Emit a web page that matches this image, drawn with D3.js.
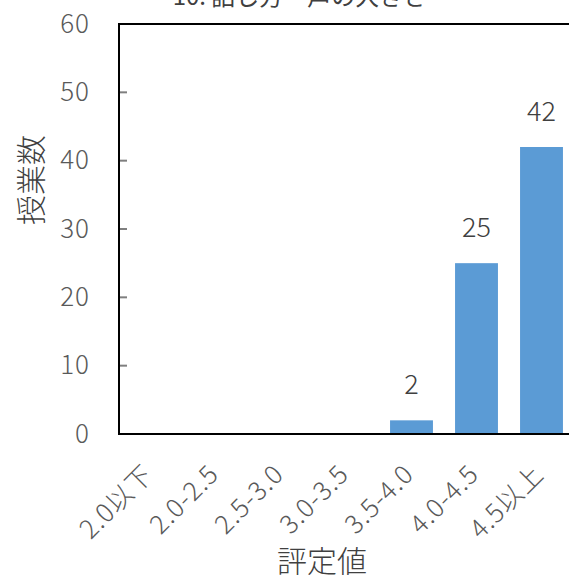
<!DOCTYPE html>
<html>
<head>
<meta charset="utf-8">
<script src="https://cdn.jsdelivr.net/npm/d3@7"></script>
<style>
  body { margin: 0; background: #fff; }
  svg { display: block; font-family: "Noto Sans CJK JP", "Noto Sans", sans-serif; }
</style>
</head>
<body>
<div id="chart"></div>
<script>
// data
let categories = ["2.0以下", "2.0-2.5", "2.5-3.0", "3.0-3.5", "3.5-4.0", "4.0-4.5", "4.5以上"];
let counts = [0, 0, 0, 0, 2, 25, 42];
let yTicks = [0, 10, 20, 30, 40, 50, 60];
let titleText = "10. 話し方ー声の大きさ";

function barChart(){
    let width = 569, height = 579;
    let margin = {"top": 24, "bottom": 145, "left": 119, "right": -5};
    let plotW = width - margin.left - margin.right;
    let plotH = height - margin.top - margin.bottom;

    let svg = d3.select("#chart").append("svg")
        .attr("width", width)
        .attr("height", height);

    let x = d3.scaleBand().domain(categories).range([0, plotW]).paddingInner(0.34).paddingOuter(0.17);
    let y = d3.scaleLinear().domain([0, 60]).range([plotH, 0]);

    let rows = categories.map((c, i) => ({cat: c, val: counts[i]}));

    let g = svg.append("g")
        .attr("transform", "translate(" + margin.left + ", " + margin.top + ")");

    // title (cut off at top)
    svg.append("text")
        .attr("x", 300).attr("y", 5)
        .attr("text-anchor", "middle")
        .attr("font-size", 24)
        .attr("fill", "#404040")
        .text(titleText);

    // bars
    g.selectAll(".bar")
        .data(rows)
        .enter().append("rect")
        .attr("x", d => x(d.cat))
        .attr("y", d => y(d.val))
        .attr("width", x.bandwidth())
        .attr("height", d => plotH - y(d.val))
        .attr("fill", "#5B9BD5");

    // value labels
    g.selectAll(".lbl")
        .data(rows.filter(d => d.val > 0))
        .enter().append("text")
        .attr("x", d => x(d.cat) + x.bandwidth() / 2)
        .attr("y", d => y(d.val) - 26)
        .attr("text-anchor", "middle")
        .attr("font-size", 27)
        .attr("font-weight", 300)
        .attr("fill", "#404040")
        .text(d => d.val);

    // y axis
    let yAxis = d3.axisLeft(y).tickValues(yTicks).tickSize(0).tickPadding(29);
    let ya = g.append("g").call(yAxis);
    ya.select(".domain").remove();
    ya.selectAll("text")
        .attr("font-size", 26)
        .attr("font-weight", 300)
        .attr("letter-spacing", 1)
        .attr("fill", "#595959")
        .attr("font-family", "\"Noto Sans CJK JP\", sans-serif");

    // inner tick marks
    g.selectAll(".tk")
        .data(yTicks.filter(t => t > 0 && t < 60))
        .enter().append("line")
        .attr("x1", 0).attr("x2", 8)
        .attr("y1", d => y(d)).attr("y2", d => y(d))
        .attr("stroke", "#7f7f7f").attr("stroke-width", 2);

    // frame
    g.append("line").attr("x1", 0).attr("x2", 0).attr("y1", 0).attr("y2", plotH)
        .attr("stroke", "#000").attr("stroke-width", 2);
    g.append("line").attr("x1", -1).attr("x2", plotW).attr("y1", 0).attr("y2", 0)
        .attr("stroke", "#000").attr("stroke-width", 2);
    g.append("line").attr("x1", -1).attr("x2", plotW).attr("y1", plotH).attr("y2", plotH)
        .attr("stroke", "#000").attr("stroke-width", 2);

    // x labels
    g.selectAll(".xl")
        .data(categories)
        .enter().append("text")
        .attr("transform", d => "translate(" + (x(d) + x.bandwidth() / 2 - 10) + ", " + (plotH + 28) + ") rotate(-45)")
        .attr("text-anchor", "end")
        .attr("dy", "0.75em")
        .attr("font-size", 26)
        .attr("font-weight", 300)
        .attr("letter-spacing", 1)
        .attr("fill", "#595959")
        .text(d => d);

    // axis titles
    svg.append("text")
        .attr("x", 322).attr("y", 572)
        .attr("text-anchor", "middle")
        .attr("font-size", 30)
        .attr("font-weight", 300)
        .attr("fill", "#404040")
        .text("評定値");

    svg.append("text")
        .attr("transform", "translate(29, 180) rotate(-90)")
        .attr("text-anchor", "middle")
        .attr("dominant-baseline", "central")
        .attr("font-size", 30)
        .attr("font-weight", 300)
        .attr("fill", "#404040")
        .text("授業数");
}

barChart();
</script>
</body>
</html>
